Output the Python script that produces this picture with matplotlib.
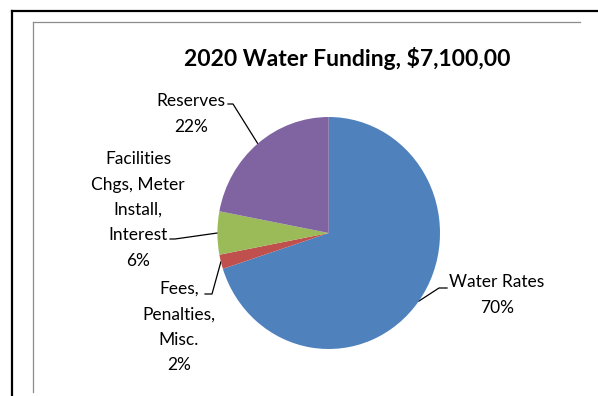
import numpy as np
import matplotlib.pyplot as plt
from matplotlib.lines import Line2D

# funding sources (percent of total)
sources = ["Water Rates", "Fees,\nPenalties,\nMisc.", "Facilities\nChgs, Meter\nInstall,\nInterest", "Reserves"]
shares = [70, 2, 6, 22]
colors = ["#4F81BD", "#C0504D", "#9BBB59", "#8064A2"]

plt.rcParams["font.family"] = ["Lato", "DejaVu Sans"]

W, H = 598, 396
fig = plt.figure(figsize=(W / 100, H / 100), dpi=100)

# overlay axes in pixel units for frame, title, labels and leaders
ax = fig.add_axes([0, 0, 1, 1])
ax.set_xlim(0, W)
ax.set_ylim(0, H)
ax.axis("off")

# pie in its own box (slightly taller than wide)
cx, cy, rx, ry = 328.7, H - 233, 111.3, 116
pax = fig.add_axes([(cx - rx) / W, (cy - ry) / H, 2 * rx / W, 2 * ry / H])
wedges, _ = pax.pie(shares, colors=colors, startangle=90, counterclock=False,
                    radius=1, wedgeprops=dict(linewidth=0))
pax.set_aspect("auto")
pax.set_xlim(-1, 1)
pax.set_ylim(-1, 1)
pax.axis("off")

# frame lines
ax.add_line(Line2D([12, W], [H - 11, H - 11], color="black", lw=1.6))
ax.add_line(Line2D([12, 12], [0, H - 11], color="black", lw=1.6))
ax.add_line(Line2D([33, 580], [H - 22, H - 22], color="#8c8c8c", lw=0.9))
ax.add_line(Line2D([33, 33], [H - 392, H - 22], color="#8c8c8c", lw=0.9))

ax.text(347, H - 58, "2020 Water Funding, $7,100,00", ha="center", va="center",
        fontsize=16.5, fontweight="bold")

# label position (text centre) and leader elbow/end for each wedge
label_xy = [(497, 295), (179, 327), (138, 210), (191, 114)]
leader = [[(447, 288), (439, 288)],
          [(205, 294), (212, 294)],
          [(170, 239), (175, 239)],
          [(228, 104), (233, 104)]]

for w, name, pct, (lx, ly), pts in zip(wedges, sources, shares, label_xy, leader):
    mid = np.deg2rad((w.theta1 + w.theta2) / 2)
    x0, y0 = cx + rx * np.cos(mid), cy + ry * np.sin(mid)
    xs = [p[0] for p in pts] + [x0]
    ys = [H - p[1] for p in pts] + [y0]
    ax.add_line(Line2D(xs, ys, color="black", lw=0.9))
    ax.text(lx, H - ly, f"{name}\n{pct}%", ha="center", va="center",
            fontsize=12.5, linespacing=1.72)

fig.savefig("out.png", dpi=100)
